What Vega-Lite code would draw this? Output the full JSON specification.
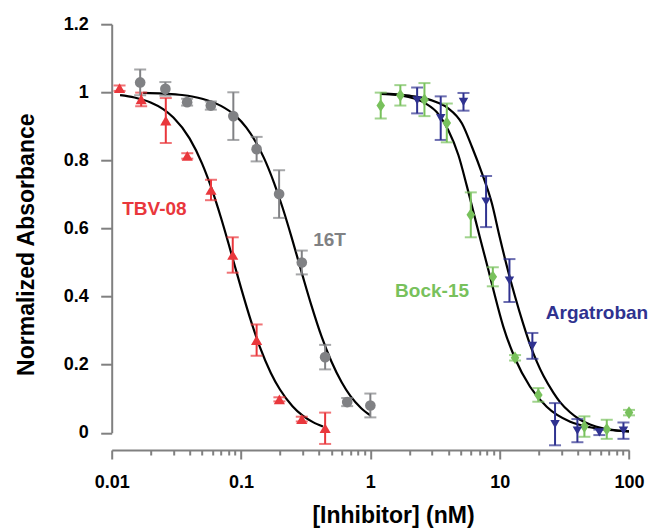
{
  "$schema": "https://vega.github.io/schema/vega-lite/v6.json",
  "width": 517.3,
  "height": 408.5,
  "autosize": {"type": "none"},
  "padding": {"left": 111.7, "top": 24.2, "right": 24, "bottom": 95.3},
  "background": "white",
  "config": {"view": {"stroke": null}, "font": "Liberation Sans"},
  "datasets": {
    "points": [
      {"series": "TBV-08", "x": 0.0115, "y": 1.012, "lo": 1.004, "hi": 1.020},
      {"series": "TBV-08", "x": 0.0169, "y": 0.979, "lo": 0.959, "hi": 0.999},
      {"series": "TBV-08", "x": 0.0262, "y": 0.917, "lo": 0.851, "hi": 0.983},
      {"series": "TBV-08", "x": 0.0384, "y": 0.813, "lo": 0.805, "hi": 0.821},
      {"series": "TBV-08", "x": 0.0586, "y": 0.713, "lo": 0.683, "hi": 0.743},
      {"series": "TBV-08", "x": 0.0863, "y": 0.522, "lo": 0.470, "hi": 0.574},
      {"series": "TBV-08", "x": 0.132, "y": 0.272, "lo": 0.226, "hi": 0.318},
      {"series": "TBV-08", "x": 0.198, "y": 0.098, "lo": 0.092, "hi": 0.104},
      {"series": "TBV-08", "x": 0.295, "y": 0.040, "lo": 0.033, "hi": 0.047},
      {"series": "TBV-08", "x": 0.447, "y": 0.013, "lo": -0.033, "hi": 0.059},
      {"series": "16T", "x": 0.0166, "y": 1.029, "lo": 0.991, "hi": 1.067},
      {"series": "16T", "x": 0.026, "y": 1.010, "lo": 0.990, "hi": 1.030},
      {"series": "16T", "x": 0.0383, "y": 0.971, "lo": 0.961, "hi": 0.981},
      {"series": "16T", "x": 0.0584, "y": 0.961, "lo": 0.949, "hi": 0.973},
      {"series": "16T", "x": 0.0872, "y": 0.930, "lo": 0.860, "hi": 1.000},
      {"series": "16T", "x": 0.132, "y": 0.833, "lo": 0.797, "hi": 0.869},
      {"series": "16T", "x": 0.197, "y": 0.701, "lo": 0.631, "hi": 0.771},
      {"series": "16T", "x": 0.295, "y": 0.500, "lo": 0.465, "hi": 0.535},
      {"series": "16T", "x": 0.447, "y": 0.222, "lo": 0.186, "hi": 0.258},
      {"series": "16T", "x": 0.662, "y": 0.090, "lo": 0.078, "hi": 0.102},
      {"series": "16T", "x": 1.0, "y": 0.080, "lo": 0.045, "hi": 0.115},
      {"series": "Bock-15", "x": 1.203, "y": 0.961, "lo": 0.923, "hi": 0.999},
      {"series": "Bock-15", "x": 1.706, "y": 0.991, "lo": 0.961, "hi": 1.021},
      {"series": "Bock-15", "x": 2.62, "y": 0.978, "lo": 0.930, "hi": 1.027},
      {"series": "Bock-15", "x": 3.9, "y": 0.910, "lo": 0.853, "hi": 0.967},
      {"series": "Bock-15", "x": 5.98, "y": 0.640, "lo": 0.574, "hi": 0.706},
      {"series": "Bock-15", "x": 8.85, "y": 0.458, "lo": 0.430, "hi": 0.486},
      {"series": "Bock-15", "x": 13.15, "y": 0.220, "lo": 0.212, "hi": 0.228},
      {"series": "Bock-15", "x": 19.9, "y": 0.111, "lo": 0.091, "hi": 0.131},
      {"series": "Bock-15", "x": 45.2, "y": 0.018, "lo": -0.012, "hi": 0.048},
      {"series": "Bock-15", "x": 67.3, "y": 0.010, "lo": -0.018, "hi": 0.038},
      {"series": "Bock-15", "x": 100, "y": 0.059, "lo": 0.051, "hi": 0.067},
      {"series": "Argatroban", "x": 2.3, "y": 0.976, "lo": 0.938, "hi": 1.014},
      {"series": "Argatroban", "x": 3.5, "y": 0.924, "lo": 0.860, "hi": 0.988},
      {"series": "Argatroban", "x": 5.25, "y": 0.972, "lo": 0.946, "hi": 0.998},
      {"series": "Argatroban", "x": 7.85, "y": 0.679, "lo": 0.604, "hi": 0.754},
      {"series": "Argatroban", "x": 11.9, "y": 0.447, "lo": 0.384, "hi": 0.510},
      {"series": "Argatroban", "x": 17.9, "y": 0.255, "lo": 0.217, "hi": 0.293},
      {"series": "Argatroban", "x": 26.8, "y": 0.025, "lo": -0.037, "hi": 0.087},
      {"series": "Argatroban", "x": 39.9, "y": 0.006, "lo": -0.028, "hi": 0.040},
      {"series": "Argatroban", "x": 59.0, "y": 0.001, "lo": -0.007, "hi": 0.009},
      {"series": "Argatroban", "x": 90.6, "y": 0.006, "lo": -0.018, "hi": 0.030}
    ],
    "curves": [
      {"series": "TBV-08", "x": 0.0116, "y": 0.9915},
      {"series": "TBV-08", "x": 0.015, "y": 0.9846},
      {"series": "TBV-08", "x": 0.02, "y": 0.970},
      {"series": "TBV-08", "x": 0.025, "y": 0.9507},
      {"series": "TBV-08", "x": 0.03, "y": 0.926},
      {"series": "TBV-08", "x": 0.04, "y": 0.8645},
      {"series": "TBV-08", "x": 0.05, "y": 0.7906},
      {"series": "TBV-08", "x": 0.06, "y": 0.711},
      {"series": "TBV-08", "x": 0.07, "y": 0.6313},
      {"series": "TBV-08", "x": 0.08, "y": 0.5558},
      {"series": "TBV-08", "x": 0.09, "y": 0.4868},
      {"series": "TBV-08", "x": 0.1, "y": 0.4255},
      {"series": "TBV-08", "x": 0.12, "y": 0.3255},
      {"series": "TBV-08", "x": 0.14, "y": 0.2514},
      {"series": "TBV-08", "x": 0.17, "y": 0.1755},
      {"series": "TBV-08", "x": 0.2, "y": 0.1268},
      {"series": "TBV-08", "x": 0.25, "y": 0.078},
      {"series": "TBV-08", "x": 0.3, "y": 0.050},
      {"series": "TBV-08", "x": 0.36, "y": 0.031},
      {"series": "TBV-08", "x": 0.43, "y": 0.018},
      {"series": "16T", "x": 0.0175, "y": 0.998},
      {"series": "16T", "x": 0.025, "y": 0.996},
      {"series": "16T", "x": 0.035, "y": 0.992},
      {"series": "16T", "x": 0.05, "y": 0.981},
      {"series": "16T", "x": 0.07, "y": 0.960},
      {"series": "16T", "x": 0.09, "y": 0.932},
      {"series": "16T", "x": 0.11, "y": 0.896},
      {"series": "16T", "x": 0.13, "y": 0.854},
      {"series": "16T", "x": 0.15, "y": 0.808},
      {"series": "16T", "x": 0.18, "y": 0.734},
      {"series": "16T", "x": 0.21, "y": 0.660},
      {"series": "16T", "x": 0.25, "y": 0.565},
      {"series": "16T", "x": 0.3, "y": 0.460},
      {"series": "16T", "x": 0.35, "y": 0.374},
      {"series": "16T", "x": 0.42, "y": 0.282},
      {"series": "16T", "x": 0.5, "y": 0.209},
      {"series": "16T", "x": 0.6, "y": 0.148},
      {"series": "16T", "x": 0.7, "y": 0.108},
      {"series": "16T", "x": 0.85, "y": 0.072},
      {"series": "16T", "x": 1.0, "y": 0.051},
      {"series": "Bock-15", "x": 1.2, "y": 0.995},
      {"series": "Bock-15", "x": 1.6, "y": 0.992},
      {"series": "Bock-15", "x": 1.97, "y": 0.986},
      {"series": "Bock-15", "x": 2.65, "y": 0.968},
      {"series": "Bock-15", "x": 3.36, "y": 0.936},
      {"series": "Bock-15", "x": 4.0, "y": 0.889},
      {"series": "Bock-15", "x": 4.8, "y": 0.815},
      {"series": "Bock-15", "x": 5.57, "y": 0.725},
      {"series": "Bock-15", "x": 6.3, "y": 0.645},
      {"series": "Bock-15", "x": 7.05, "y": 0.572},
      {"series": "Bock-15", "x": 8.18, "y": 0.478},
      {"series": "Bock-15", "x": 8.94, "y": 0.420},
      {"series": "Bock-15", "x": 10.68, "y": 0.311},
      {"series": "Bock-15", "x": 13.15, "y": 0.218},
      {"series": "Bock-15", "x": 17.18, "y": 0.135},
      {"series": "Bock-15", "x": 23.1, "y": 0.076},
      {"series": "Bock-15", "x": 35.1, "y": 0.032},
      {"series": "Bock-15", "x": 50, "y": 0.016},
      {"series": "Bock-15", "x": 70, "y": 0.008},
      {"series": "Bock-15", "x": 100, "y": 0.004},
      {"series": "Argatroban", "x": 1.2, "y": 0.997},
      {"series": "Argatroban", "x": 2.0, "y": 0.990},
      {"series": "Argatroban", "x": 2.65, "y": 0.982},
      {"series": "Argatroban", "x": 3.3, "y": 0.970},
      {"series": "Argatroban", "x": 4.0, "y": 0.953},
      {"series": "Argatroban", "x": 5.1, "y": 0.909},
      {"series": "Argatroban", "x": 6.1, "y": 0.840},
      {"series": "Argatroban", "x": 7.3, "y": 0.762},
      {"series": "Argatroban", "x": 8.7, "y": 0.674},
      {"series": "Argatroban", "x": 10.0, "y": 0.575},
      {"series": "Argatroban", "x": 11.35, "y": 0.490},
      {"series": "Argatroban", "x": 13.15, "y": 0.400},
      {"series": "Argatroban", "x": 15.25, "y": 0.318},
      {"series": "Argatroban", "x": 17.2, "y": 0.258},
      {"series": "Argatroban", "x": 19.4, "y": 0.208},
      {"series": "Argatroban", "x": 21.8, "y": 0.167},
      {"series": "Argatroban", "x": 26.0, "y": 0.118},
      {"series": "Argatroban", "x": 29.3, "y": 0.090},
      {"series": "Argatroban", "x": 35, "y": 0.060},
      {"series": "Argatroban", "x": 41.9, "y": 0.038},
      {"series": "Argatroban", "x": 50, "y": 0.024},
      {"series": "Argatroban", "x": 62.8, "y": 0.013},
      {"series": "Argatroban", "x": 80, "y": 0.007},
      {"series": "Argatroban", "x": 100, "y": 0.004}
    ]
  },
  "layer": [
    {
      "data": {"name": "curves"},
      "mark": {"type": "line", "color": "black", "strokeWidth": 2.2, "interpolate": "monotone", "clip": false},
      "encoding": {
        "x": {
          "field": "x", "type": "quantitative",
          "scale": {"type": "log", "domain": [0.01, 100], "nice": false},
          "title": "[Inhibitor] (nM)",
          "axis": {
            "orient": "bottom",
            "offset": 17.3,
            "values": [0.01, 0.02, 0.03, 0.04, 0.05, 0.06, 0.07, 0.08, 0.09, 0.1, 0.2, 0.3, 0.4, 0.5, 0.6, 0.7, 0.8, 0.9, 1, 2, 3, 4, 5, 6, 7, 8, 9, 10, 20, 30, 40, 50, 60, 70, 80, 90, 100],
            "labelExpr": "indexof([0.01,0.1,1,10,100], datum.value) >= 0 ? format(datum.value, '~g') : ''",
            "tickSize": {"condition": {"test": "indexof([0.01,0.1,1,10,100], datum.value) >= 0", "value": 9}, "value": 5},
            "tickWidth": 2,
            "tickColor": "#808080",
            "domainColor": "#808080",
            "domainWidth": 2,
            "grid": false,
            "labelFont": "Liberation Sans",
            "labelFontSize": 18,
            "labelFontWeight": "bold",
            "labelColor": "#000000",
            "labelPadding": 14.3,
            "labelOverlap": false,
            "labelFlush": false,
            "labelBound": false,
            "titleFont": "Liberation Sans",
            "titleFontSize": 23,
            "titleFontWeight": "bold",
            "titleColor": "#000000",
            "titleX": 281.3,
            "titleY": 54.6,
            "titleAlign": "center",
            "titleBaseline": "top"
          }
        },
        "y": {
          "field": "y", "type": "quantitative",
          "scale": {"domain": [0, 1.2], "nice": false, "zero": false},
          "title": "Normalized Absorbance",
          "axis": {
            "values": [0, 0.2, 0.4, 0.6, 0.8, 1, 1.2],
            "format": "~g",
            "tickSize": 11,
            "tickWidth": 2,
            "tickColor": "#808080",
            "domainColor": "#808080",
            "domainWidth": 2,
            "grid": false,
            "labelFont": "Liberation Sans",
            "labelFontSize": 18,
            "labelFontWeight": "bold",
            "labelColor": "#000000",
            "labelPadding": 12.4,
            "labelOverlap": false,
            "labelFlush": false,
            "labelBound": false,
            "titleFont": "Liberation Sans",
            "titleFontSize": 23,
            "titleFontWeight": "bold",
            "titleColor": "#000000",
            "titleX": -73.6,
            "titleY": 220,
            "titleAngle": 270,
            "titleAlign": "center",
            "titleBaseline": "bottom"
          }
        },
        "detail": {"field": "series", "type": "nominal"}
      }
    },
    {
      "data": {"name": "points"},
      "mark": {"type": "errorbar", "ticks": {"size": 12, "strokeWidth": 2}, "rule": {"strokeWidth": 2}, "size": 12, "thickness": 2, "clip": false},
      "encoding": {
        "x": {"field": "x", "type": "quantitative", "scale": {"type": "log", "domain": [0.01, 100], "nice": false}, "title": "[Inhibitor] (nM)"},
        "y": {"field": "lo", "type": "quantitative", "scale": {"domain": [0, 1.2], "nice": false, "zero": false}, "title": "Normalized Absorbance"},
        "y2": {"field": "hi"},
        "color": {
          "field": "series", "type": "nominal",
          "scale": {"domain": ["TBV-08", "16T", "Bock-15", "Argatroban"], "range": ["#e9373c", "#808184", "#78c15c", "#2f3290"]},
          "legend": null
        }
      }
    },
    {
      "data": {"name": "points"},
      "mark": {"type": "point", "filled": true, "opacity": 1, "clip": false},
      "encoding": {
        "x": {"field": "x", "type": "quantitative", "scale": {"type": "log", "domain": [0.01, 100], "nice": false}, "title": "[Inhibitor] (nM)"},
        "y": {"field": "y", "type": "quantitative", "scale": {"domain": [0, 1.2], "nice": false, "zero": false}, "title": "Normalized Absorbance"},
        "color": {
          "field": "series", "type": "nominal",
          "scale": {"domain": ["TBV-08", "16T", "Bock-15", "Argatroban"], "range": ["#e9373c", "#808184", "#78c15c", "#2f3290"]},
          "legend": null
        },
        "shape": {
          "field": "series", "type": "nominal",
          "scale": {"domain": ["TBV-08", "16T", "Bock-15", "Argatroban"], "range": ["triangle-up", "circle", "M0,-1.25L0.85,0L0,1.25L-0.85,0Z", "triangle-down"]},
          "legend": null
        },
        "size": {
          "field": "series", "type": "ordinal",
          "scale": {"domain": ["TBV-08", "16T", "Bock-15", "Argatroban"], "range": [125, 90, 92, 140]},
          "legend": null
        }
      }
    },
    {
      "data": {"values": [{}]},
      "mark": {"type": "text", "text": "TBV-08", "font": "Liberation Sans", "fontSize": 19, "fontWeight": "bold", "color": "#e9373c", "align": "center", "baseline": "middle"},
      "encoding": {
        "x": {"datum": 0.0214, "type": "quantitative", "scale": {"type": "log", "domain": [0.01, 100], "nice": false}, "title": "[Inhibitor] (nM)"},
        "y": {"datum": 0.656, "type": "quantitative", "scale": {"domain": [0, 1.2], "nice": false, "zero": false}, "title": "Normalized Absorbance"}
      }
    },
    {
      "data": {"values": [{}]},
      "mark": {"type": "text", "text": "16T", "font": "Liberation Sans", "fontSize": 19, "fontWeight": "bold", "color": "#808184", "align": "center", "baseline": "middle"},
      "encoding": {
        "x": {"datum": 0.4836, "type": "quantitative", "scale": {"type": "log", "domain": [0.01, 100], "nice": false}, "title": "[Inhibitor] (nM)"},
        "y": {"datum": 0.565, "type": "quantitative", "scale": {"domain": [0, 1.2], "nice": false, "zero": false}, "title": "Normalized Absorbance"}
      }
    },
    {
      "data": {"values": [{}]},
      "mark": {"type": "text", "text": "Bock-15", "font": "Liberation Sans", "fontSize": 19, "fontWeight": "bold", "color": "#78c15c", "align": "center", "baseline": "middle"},
      "encoding": {
        "x": {"datum": 3.0, "type": "quantitative", "scale": {"type": "log", "domain": [0.01, 100], "nice": false}, "title": "[Inhibitor] (nM)"},
        "y": {"datum": 0.417, "type": "quantitative", "scale": {"domain": [0, 1.2], "nice": false, "zero": false}, "title": "Normalized Absorbance"}
      }
    },
    {
      "data": {"values": [{}]},
      "mark": {"type": "text", "text": "Argatroban", "font": "Liberation Sans", "fontSize": 19, "fontWeight": "bold", "color": "#2f3290", "align": "left", "baseline": "middle"},
      "encoding": {
        "x": {"datum": 22.73, "type": "quantitative", "scale": {"type": "log", "domain": [0.01, 100], "nice": false}, "title": "[Inhibitor] (nM)"},
        "y": {"datum": 0.352, "type": "quantitative", "scale": {"domain": [0, 1.2], "nice": false, "zero": false}, "title": "Normalized Absorbance"}
      }
    }
  ]
}
